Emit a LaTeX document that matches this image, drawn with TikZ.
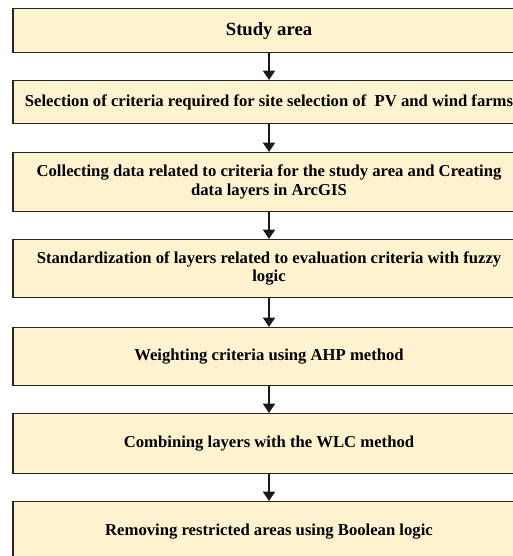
\documentclass[tikz,border=0pt]{standalone}
\usepackage{fontspec}
\setmainfont{Liberation Serif}
\usetikzlibrary{arrows.meta, positioning}
\definecolor{boxfill}{RGB}{255,242,206}

\begin{document}
\begin{tikzpicture}[x=0.75pt, y=-0.75pt,
        stepbox/.style={draw=black!85, line width=0.9pt, fill=boxfill, minimum width=384pt, align=center, anchor=north, inner sep=2pt, font=\fontsize{12.5}{13.9}\selectfont\bfseries},
        arrow/.style={-{Triangle[length=7pt, width=9pt]}, line width=1.3pt, black!90}
    ]
        \useasboundingbox (0,0) rectangle (513,556);

        % --- Steps of the site selection ---
        \node[stepbox, minimum height=33pt, font=\fontsize{14}{16}\selectfont\bfseries] (area) at (269, 8) {Study area};
        \node[stepbox, minimum height=32.25pt] (criteria) at (269, 80) {Selection of criteria required for site selection of~ PV and wind farms};
        \node[stepbox, minimum height=44.25pt] (data) at (269, 152) {Collecting data related to criteria for the study area and Creating\\data layers in ArcGIS};
        \node[stepbox, minimum height=43.5pt] (fuzzy) at (269, 239) {Standardization of layers related to evaluation criteria with fuzzy\\logic};
        \node[stepbox, minimum height=43.5pt] (ahp) at (269, 327) {Weighting criteria using AHP method};
        \node[stepbox, minimum height=45pt] (wlc) at (269, 413) {Combining layers with the WLC method};
        \node[stepbox, minimum height=45pt] (bool) at (269, 501) {Removing restricted areas using Boolean logic};

        % --- Flow between steps ---
        \draw[arrow] (area) -- (criteria);
        \draw[arrow] (criteria) -- (data);
        \draw[arrow] (data) -- (fuzzy);
        \draw[arrow] (fuzzy) -- (ahp);
        \draw[arrow] (ahp) -- (wlc);
        \draw[arrow] (wlc) -- (bool);

    \end{tikzpicture}
\end{document}
